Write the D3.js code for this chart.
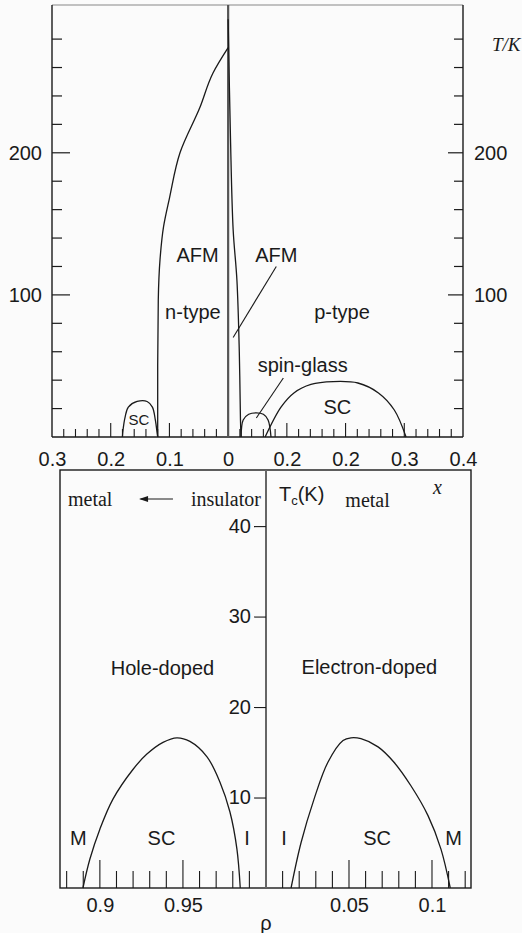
<!DOCTYPE html>
<html><head><meta charset="utf-8">
<script src="https://cdn.jsdelivr.net/npm/d3@7/dist/d3.min.js"></script>
<style>
body{margin:0;background:#fbfbfb;}
svg{display:block;}
text{font-family:"Liberation Sans",Arial,sans-serif;fill:#1a1a1a;}
.serif{font-family:"Liberation Serif","Times New Roman",serif;}
</style></head>
<body>
<script>
// ---------- Top panel data (x: doping, negative = n-type side; T in K) ----------
const topXTicks = [-0.3,-0.2,-0.1,0,0.1,0.2,0.3,0.4];
const topXTickLabels = ["0.3","0.2","0.1","0","0.2","0.2","0.3","0.4"];
const topYTicks = [100,200];
const afmN = [[0,274],[-0.026,256],[-0.048,232],[-0.082,200],[-0.1,168],[-0.11,148],[-0.116,125],[-0.119,96],[-0.12,50],[-0.12,0]];
const afmP = [[0,294],[0.004,210],[0.0085,146],[0.015,110],[0.019,60],[0.021,12],[0.022,0]];
const scN = [[-0.18,0],[-0.179,5],[-0.1755,14],[-0.17,21],[-0.155,25],[-0.138,25],[-0.129,21],[-0.124,12],[-0.121,3],[-0.12,0]];
const spinGlass = [[0.022,0],[0.0256,12],[0.035,16],[0.048,17],[0.06,16],[0.068,12],[0.073,0]];
const scP = [[0.063,0],[0.09,21],[0.112,31],[0.141,37],[0.179,39],[0.221,38],[0.256,31],[0.283,19],[0.303,0]];
const afmLeader = [[0.0085,70],[0.082,120]];
const spinLeader = [[0.094,41.5],[0.048,13.4]];
const topLabels = [
  {t:"AFM",x:-0.052,y:128},{t:"AFM",x:0.082,y:128},
  {t:"n-type",x:-0.060,y:88},{t:"p-type",x:0.194,y:88},
  {t:"spin-glass",x:0.127,y:50.7},{t:"SC",x:0.186,y:21},
  {t:"SC",x:-0.152,y:12,small:true}
];
// ---------- Bottom panel data ----------
const rhoTicksLabeled = [0.9,0.95];
const rhoTickLabels = ["0.9","0.95"];
const eTicksLabeled = [0.05,0.1];
const eTickLabels = ["0.05","0.1"];
const tcTicks = [10,20,30,40];
const holeDome = [[0.8898,0],[0.894,3.2],[0.9,6.5],[0.9078,9.8],[0.9199,13.1],[0.9283,14.8],[0.938,16.1],[0.9464,16.6],[0.9542,16.2],[0.9645,14.5],[0.9723,11.7],[0.9783,8.4],[0.9825,4.3],[0.9845,0]];
const elecDome = [[0.0151,0],[0.0211,5.0],[0.0289,9.8],[0.0373,13.9],[0.0464,16.3],[0.0512,16.6],[0.0572,16.5],[0.0675,15.6],[0.0771,13.9],[0.0873,11.3],[0.0976,8.0],[0.1054,4.3],[0.111,0]];
const holeLabels = [{t:"M",x:0.8871,y:5.5},{t:"SC",x:0.9371,y:5.5},{t:"I",x:0.9886,y:5.5},{t:"Hole-doped",x:0.9377,y:24.3}];
const elecLabels = [{t:"I",x:0.0108,y:5.5},{t:"SC",x:0.0669,y:5.5},{t:"M",x:0.113,y:5.5},{t:"Electron-doped",x:0.0623,y:24.4}];

const W=522,H=933, ink="#1a1a1a";
const svg=d3.select("body").append("svg").attr("width",W).attr("height",H);

// ================= TOP PANEL =================
const xT=d3.scaleLinear().domain([-0.3,0.4]).range([52,463]);
const yT=d3.scaleLinear().domain([0,304]).range([437,5]);
const gT=svg.append("g");
const lineT=d3.line().x(d=>xT(d[0])).y(d=>yT(d[1]));
// frame
gT.append("line").attr("x1",52).attr("x2",463).attr("y1",5).attr("y2",5).attr("stroke","#888").attr("stroke-width",1.2);
gT.append("line").attr("x1",52).attr("x2",52).attr("y1",5).attr("y2",437).attr("stroke",ink).attr("stroke-width",1.4);
gT.append("line").attr("x1",463).attr("x2",463).attr("y1",5).attr("y2",437).attr("stroke",ink).attr("stroke-width",1.4);
gT.append("line").attr("x1",52).attr("x2",463).attr("y1",437).attr("y2",437).attr("stroke",ink).attr("stroke-width",1.6);
// central divider at x=0
gT.append("line").attr("x1",xT(0)).attr("x2",xT(0)).attr("y1",5).attr("y2",437).attr("stroke","#555").attr("stroke-width",2.2);
// y minor ticks (every 20) inward
const yMinor=d3.range(20,300,20);
gT.selectAll(".ylm").data(yMinor).join("line").attr("x1",52).attr("x2",d=>52+(d%100===0?18:10)).attr("y1",d=>yT(d)).attr("y2",d=>yT(d)).attr("stroke",ink).attr("stroke-width",1.2);
gT.selectAll(".yrm").data(yMinor).join("line").attr("x1",463).attr("x2",d=>463-(d%100===0?15:9)).attr("y1",d=>yT(d)).attr("y2",d=>yT(d)).attr("stroke",ink).attr("stroke-width",1.2);
// y labels left & right
const axL=d3.axisLeft(yT).tickValues(topYTicks).tickSize(0).tickPadding(10).tickFormat(d3.format("d"));
gT.append("g").attr("transform","translate(52,0)").call(axL).call(g=>{g.select(".domain").remove();g.selectAll("text").attr("font-size",20).attr("font-family","Liberation Sans").attr("fill",ink);});
const axR=d3.axisRight(yT).tickValues(topYTicks).tickSize(0).tickPadding(11).tickFormat(d3.format("d"));
gT.append("g").attr("transform","translate(463,0)").call(axR).call(g=>{g.select(".domain").remove();g.selectAll("text").attr("font-size",20).attr("font-family","Liberation Sans").attr("fill",ink);});
// x ticks (every 0.02), upward
const xMinor=d3.range(-14,20).map(i=>i*0.02).filter(v=>Math.abs(v)>1e-9);
gT.selectAll(".xm").data(xMinor).join("line").attr("x1",d=>xT(d)).attr("x2",d=>xT(d)).attr("y1",437)
  .attr("y2",d=>437-(Math.abs(Math.round(d*100))%10===0?14:8)).attr("stroke",ink).attr("stroke-width",1.1);
// x labels
const axB=d3.axisBottom(xT).tickValues(topXTicks).tickSize(0).tickPadding(15).tickFormat((d,i)=>topXTickLabels[i]);
gT.append("g").attr("transform","translate(0,437)").call(axB).call(g=>{g.select(".domain").remove();g.selectAll("text").attr("font-size",20).attr("font-family","Liberation Sans").attr("fill",ink);});
// curves
const sm=d3.line().x(d=>xT(d[0])).y(d=>yT(d[1])).curve(d3.curveCatmullRom.alpha(0.5));
const smY=d3.line().x(d=>xT(d[0])).y(d=>yT(d[1])).curve(d3.curveMonotoneY);
gT.append("path").attr("d",smY(afmN)).attr("fill","none").attr("stroke",ink).attr("stroke-width",1.3);
[afmP,scN,spinGlass,scP].forEach(c=>gT.append("path").attr("d",sm(c)).attr("fill","none").attr("stroke",ink).attr("stroke-width",1.3));
[afmLeader,spinLeader].forEach(c=>gT.append("path").attr("d",lineT(c)).attr("fill","none").attr("stroke",ink).attr("stroke-width",1.1));
gT.selectAll(".tl").data(topLabels).join("text").attr("x",d=>xT(d.x)).attr("y",d=>yT(d.y)).attr("text-anchor","middle")
  .attr("dominant-baseline","central").attr("font-size",d=>d.small?15:20).text(d=>d.t);
gT.append("text").attr("class","serif").attr("x",492).attr("y",yT(276)).attr("dominant-baseline","central").attr("font-size",19).attr("font-style","italic").text("T/K");

// ================= BOTTOM PANEL =================
const xL=d3.scaleLinear().domain([0.876,1.0]).range([60,266]);
const xR=d3.scaleLinear().domain([0,0.1235]).range([266,471]);
const yB=d3.scaleLinear().domain([0,46.2]).range([888,470]);
const gB=svg.append("g");
gB.append("rect").attr("x",60).attr("y",470).attr("width",411).attr("height",418).attr("fill","none").attr("stroke",ink).attr("stroke-width",1.4);
gB.append("line").attr("x1",266).attr("x2",266).attr("y1",470).attr("y2",888).attr("stroke","#666").attr("stroke-width",2);
// middle Tc axis
const axM=d3.axisLeft(yB).tickValues(tcTicks).tickSize(12).tickPadding(3);
gB.append("g").attr("transform","translate(266,0)").call(axM).call(g=>{g.select(".domain").remove();g.selectAll("line").attr("stroke",ink).attr("stroke-width",1.1);g.selectAll("text").attr("font-size",20).attr("font-family","Liberation Sans").attr("fill",ink);});
// x ticks bottom
const lTicks=d3.range(88,100).map(i=>i/100);
const rTicks=d3.range(1,13).map(i=>i/100);
const tall=v=>Math.abs(Math.round(v*100))%5===0;
gB.selectAll(".lt").data(lTicks).join("line").attr("x1",d=>xL(d)).attr("x2",d=>xL(d)).attr("y1",888).attr("y2",d=>888-(tall(d)?28:17)).attr("stroke",ink).attr("stroke-width",1.1);
gB.selectAll(".rt").data(rTicks).join("line").attr("x1",d=>xR(d)).attr("x2",d=>xR(d)).attr("y1",888).attr("y2",d=>888-(tall(d)?28:17)).attr("stroke",ink).attr("stroke-width",1.1);
const axBL=d3.axisBottom(xL).tickValues(rhoTicksLabeled).tickSize(0).tickPadding(10).tickFormat((d,i)=>rhoTickLabels[i]);
gB.append("g").attr("transform","translate(0,888)").call(axBL).call(g=>{g.select(".domain").remove();g.selectAll("text").attr("font-size",20).attr("font-family","Liberation Sans").attr("fill",ink);});
const axBR=d3.axisBottom(xR).tickValues(eTicksLabeled).tickSize(0).tickPadding(10).tickFormat((d,i)=>eTickLabels[i]);
gB.append("g").attr("transform","translate(0,888)").call(axBR).call(g=>{g.select(".domain").remove();g.selectAll("text").attr("font-size",20).attr("font-family","Liberation Sans").attr("fill",ink);});
// domes
const lineL=d3.line().x(d=>xL(d[0])).y(d=>yB(d[1])).curve(d3.curveCatmullRom.alpha(0.5));
const lineR=d3.line().x(d=>xR(d[0])).y(d=>yB(d[1])).curve(d3.curveCatmullRom.alpha(0.5));
gB.append("path").attr("d",lineL(holeDome)).attr("fill","none").attr("stroke",ink).attr("stroke-width",1.3);
gB.append("path").attr("d",lineR(elecDome)).attr("fill","none").attr("stroke",ink).attr("stroke-width",1.3);
gB.selectAll(".hl").data(holeLabels).join("text").attr("x",d=>xL(d.x)).attr("y",d=>yB(d.y)).attr("text-anchor","middle").attr("dominant-baseline","central").attr("font-size",20).text(d=>d.t);
gB.selectAll(".el").data(elecLabels).join("text").attr("x",d=>xR(d.x)).attr("y",d=>yB(d.y)).attr("text-anchor","middle").attr("dominant-baseline","central").attr("font-size",20).text(d=>d.t);
// header annotations
gB.append("text").attr("class","serif").attr("x",xL(0.8808)).attr("y",yB(43.0)).attr("dominant-baseline","central").attr("font-size",20).text("metal");
gB.append("text").attr("class","serif").attr("x",xL(0.9759)).attr("y",yB(43.0)).attr("text-anchor","middle").attr("dominant-baseline","central").attr("font-size",20).text("insulator");
gB.append("line").attr("x1",xL(0.944)).attr("x2",xL(0.9245)).attr("y1",yB(43.0)).attr("y2",yB(43.0)).attr("stroke",ink).attr("stroke-width",1.1);
gB.append("path").attr("d",`M${xL(0.9236)},${yB(43.0)} l9,-3 l0,6 z`).attr("fill",ink);
const tc=gB.append("text").attr("x",xR(0.0078)).attr("y",yB(43.6)).attr("dominant-baseline","central").attr("font-size",20);
tc.append("tspan").text("T");
tc.append("tspan").attr("font-size",13).attr("dy",6).text("c");
tc.append("tspan").attr("dy",-6).text("(K)");
gB.append("text").attr("class","serif").attr("x",xR(0.0612)).attr("y",yB(42.9)).attr("text-anchor","middle").attr("dominant-baseline","central").attr("font-size",20).text("metal");
gB.append("text").attr("class","serif").attr("x",xR(0.1006)).attr("y",yB(44.3)).attr("dominant-baseline","central").attr("font-size",20).attr("font-style","italic").text("x");
gB.append("text").attr("x",266).attr("y",923).attr("text-anchor","middle").attr("dominant-baseline","central").attr("font-size",20).text("ρ");
</script>
</body></html>
